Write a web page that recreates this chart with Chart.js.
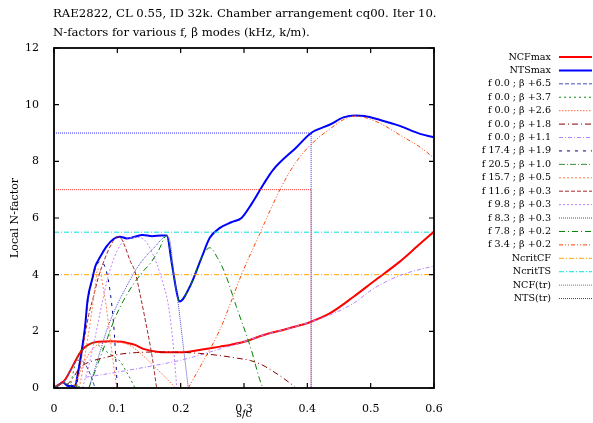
<!DOCTYPE html>
<html><head><meta charset="utf-8">
<script src="https://cdn.jsdelivr.net/npm/chart.js@4"></script>
<style>html,body{margin:0;padding:0;background:#fff;}#wrap{width:593px;height:423px;position:relative}</style>
</head><body><div id="wrap"><canvas id="c" width="593" height="423"></canvas></div>
<script>
const titleLines = ["RAE2822, CL 0.55, ID 32k. Chamber arrangement cq00. Iter 10.", "N-factors for various f, \u03b2 modes (kHz, k/m)."];
const xTitle = "s/c";
const yTitle = "Local N-factor";
const xTickValues = [0, 0.1, 0.2, 0.3, 0.4, 0.5, 0.6];
const yTickValues = [0, 2, 4, 6, 8, 10, 12];

const ncfMax = [[0,0],[0.004,0.07],[0.01,0.15],[0.017,0.28],[0.025,0.58],[0.036,1.05],[0.044,1.34],[0.054,1.52],[0.062,1.6],[0.07,1.63],[0.09,1.65],[0.107,1.63],[0.118,1.58],[0.128,1.52],[0.141,1.38],[0.162,1.28],[0.18,1.26],[0.199,1.26],[0.23,1.34],[0.262,1.46],[0.278,1.52],[0.3,1.63],[0.331,1.87],[0.37,2.1],[0.406,2.34],[0.436,2.64],[0.473,3.22],[0.504,3.75],[0.546,4.46],[0.573,4.99],[0.6,5.52]];
const ntsMax = [[0,0],[0.008,0.12],[0.014,0.2],[0.022,0.07],[0.033,0.07],[0.038,0.55],[0.044,1.35],[0.049,2.15],[0.053,3.1],[0.061,3.9],[0.065,4.28],[0.073,4.63],[0.083,5.0],[0.094,5.26],[0.104,5.34],[0.115,5.28],[0.125,5.32],[0.14,5.4],[0.155,5.36],[0.17,5.38],[0.178,5.38],[0.186,4.4],[0.194,3.35],[0.198,3.05],[0.215,3.6],[0.233,4.6],[0.246,5.3],[0.262,5.65],[0.28,5.85],[0.296,6.0],[0.312,6.5],[0.331,7.2],[0.346,7.7],[0.383,8.5],[0.406,9.0],[0.436,9.3],[0.457,9.55],[0.475,9.62],[0.49,9.6],[0.515,9.46],[0.546,9.25],[0.578,8.97],[0.6,8.85]];
const cf65 = [[0,0],[0.005,0.08],[0.012,0.2],[0.018,0.3],[0.025,0.58],[0.032,0.85],[0.038,0.98],[0.045,0.95],[0.055,0.6],[0.065,0]];
const cf37 = [[0.025,0],[0.036,1.05],[0.044,1.34],[0.054,1.52],[0.065,1.6],[0.073,1.45],[0.085,1.25],[0.095,1.1],[0.104,0.95],[0.115,0.55],[0.128,0]];
const cf26 = [[0.03,0],[0.04,0.5],[0.05,1.0],[0.06,1.35],[0.07,1.55],[0.08,1.62],[0.09,1.64],[0.1,1.63],[0.11,1.58],[0.12,1.5],[0.13,1.35],[0.145,1.05],[0.16,0.72],[0.175,0.4],[0.19,0.05]];
const cf18 = [[0.02,0.1],[0.03,0.35],[0.04,0.7],[0.06,0.95],[0.08,1.07],[0.1,1.18],[0.13,1.25],[0.16,1.27],[0.2,1.26],[0.23,1.22],[0.26,1.15],[0.29,1.05],[0.31,0.97],[0.33,0.8],[0.345,0.6],[0.36,0.38],[0.38,0.05]];
const cf11 = [[0.05,0.38],[0.1,0.56],[0.15,0.76],[0.2,0.98],[0.23,1.16],[0.262,1.38],[0.3,1.63],[0.331,1.87],[0.37,2.1],[0.406,2.34],[0.436,2.58],[0.473,2.99],[0.504,3.5],[0.546,3.97],[0.575,4.17],[0.6,4.3]];
const ts174 = [[0.03,0],[0.035,0.07],[0.038,0.55],[0.044,1.35],[0.049,2.15],[0.053,3.0],[0.06,3.8],[0.065,4.2],[0.072,4.45],[0.08,4.3],[0.088,3.5],[0.095,2.0],[0.1,0]];
const ts205 = [[0,0],[0.008,0.12],[0.014,0.2],[0.02,0.15],[0.03,0.1],[0.04,0.05]];
const ts157 = [[0.04,0],[0.045,0.6],[0.05,1.3],[0.055,2.0],[0.06,2.75],[0.065,3.6],[0.069,4.2],[0.073,4.1],[0.078,3.5],[0.083,2.8],[0.088,1.9],[0.093,1.0],[0.099,0]];
const ts116 = [[0.035,0],[0.04,0.6],[0.045,1.3],[0.05,2.0],[0.055,2.6],[0.062,3.2],[0.07,3.9],[0.08,4.55],[0.09,5.05],[0.1,5.33],[0.105,5.3],[0.112,5.0],[0.12,4.5],[0.128,4.1],[0.136,3.3],[0.145,2.3],[0.155,1.1],[0.162,0]];
const ts98 = [[0.045,0],[0.055,0.8],[0.065,1.8],[0.075,2.9],[0.085,3.9],[0.095,4.6],[0.105,5.05],[0.115,5.25],[0.13,5.32],[0.144,5.2],[0.162,4.4],[0.172,3.7],[0.18,3.0],[0.187,1.8],[0.194,0]];
const ts83 = [[0.055,0],[0.065,0.7],[0.075,1.45],[0.085,2.15],[0.1,2.95],[0.115,3.6],[0.13,4.2],[0.145,4.65],[0.16,5.0],[0.17,5.25],[0.178,5.37],[0.183,5.2],[0.19,3.9],[0.196,3.0],[0.204,1.5],[0.212,0]];
const ts78 = [[0.055,0],[0.065,0.6],[0.075,1.2],[0.085,1.8],[0.095,2.4],[0.11,3.1],[0.125,3.65],[0.14,4.1],[0.152,4.4],[0.165,4.85],[0.178,5.38],[0.186,4.4],[0.194,3.35],[0.198,3.05],[0.215,3.6],[0.233,4.6],[0.246,4.95],[0.258,4.6],[0.27,4.05],[0.288,2.87],[0.31,1.46],[0.328,0.1],[0.331,0]];
const ts34 = [[0.212,0],[0.23,0.72],[0.262,2.06],[0.278,2.95],[0.296,4.0],[0.325,5.45],[0.346,6.5],[0.365,7.35],[0.383,8.0],[0.406,8.6],[0.436,9.15],[0.457,9.47],[0.475,9.6],[0.49,9.55],[0.515,9.34],[0.546,8.93],[0.578,8.5],[0.6,8.12]];
const nCritCF = [[0,4],[0.6,4]];
const nCritTS = [[0,5.5],[0.6,5.5]];
const ncfTr = [[0,7],[0.406,7],[0.406,0]];
const ntsTr = [[0,9],[0.406,9],[0.406,0]];

const toXY = arr => arr.map(p => ({x: p[0], y: p[1]}));
function ds(label, arr, color, dash, width, smooth, order) {
  return {label, data: toXY(arr), borderColor: color, backgroundColor: color, borderDash: dash, borderWidth: width,
    pointRadius: 0, fill: false, tension: smooth ? 0.4 : 0, cubicInterpolationMode: smooth ? 'monotone' : 'default', order: order || 0};
}
const datasets = [
  ds("NCFmax", ncfMax, "#ff0000", [], 2, true, 1),
  ds("NTSmax", ntsMax, "#0000ff", [], 2, true, 1),
  ds("f 0.0 ; \u03b2 +6.5", cf65, "#4b4bb4", [4,2], 1, true),
  ds("f 0.0 ; \u03b2 +3.7", cf37, "#1a8a1a", [2,3], 1, true),
  ds("f 0.0 ; \u03b2 +2.6", cf26, "#ff6a3a", [1.5,1.5], 1, true),
  ds("f 0.0 ; \u03b2 +1.8", cf18, "#8b0000", [6,3,1,3], 1, true),
  ds("f 0.0 ; \u03b2 +1.1", cf11, "#b482ff", [4,2,1,2], 1, true),
  ds("f 17.4 ; \u03b2 +1.9", ts174, "#00008b", [3,5], 1, true),
  ds("f 20.5 ; \u03b2 +1.0", ts205, "#3c8c3c", [6,2,1,2], 1, true),
  ds("f 15.7 ; \u03b2 +0.5", ts157, "#ff7f50", [2,2], 1, true),
  ds("f 11.6 ; \u03b2 +0.3", ts116, "#a52a2a", [4,2], 1, true),
  ds("f 9.8 ; \u03b2 +0.3", ts98, "#c080ff", [2,2], 1, true),
  ds("f 8.3 ; \u03b2 +0.3", ts83, "#4848d0", [1,1], 1, true),
  ds("f 7.8 ; \u03b2 +0.2", ts78, "#008000", [6,3,1,3], 1, true),
  ds("f 3.4 ; \u03b2 +0.2", ts34, "#ff4500", [4,2,1,2,1,2], 1, true),
  ds("NcritCF", nCritCF, "#ffa500", [5,2,1,2], 1, false),
  ds("NcritTS", nCritTS, "#00e0e0", [5,2,1,2], 1, false),
  ds("NCF(tr)", ncfTr, "#ff4040", [1,1], 1, false),
  ds("NTS(tr)", ntsTr, "#3030ff", [1,1], 1, false)
];

const FONT = "'DejaVu Serif', serif";
const decor = {
  id: 'decor',
  afterDraw(chart) {
    const {ctx, chartArea: a, scales} = chart;
    ctx.save();
    ctx.strokeStyle = '#000'; ctx.lineWidth = 1.8; ctx.setLineDash([]);
    ctx.strokeRect(a.left, a.top, a.right - a.left, a.bottom - a.top);
    ctx.lineWidth = 1.2;
    const tl = 5;
    xTickValues.forEach(v => {
      const px = scales.x.getPixelForValue(v);
      ctx.beginPath(); ctx.moveTo(px, a.bottom); ctx.lineTo(px, a.bottom - tl);
      ctx.moveTo(px, a.top); ctx.lineTo(px, a.top + tl); ctx.stroke();
    });
    yTickValues.forEach(v => {
      const py = scales.y.getPixelForValue(v);
      ctx.beginPath(); ctx.moveTo(a.left, py); ctx.lineTo(a.left + tl, py);
      ctx.moveTo(a.right, py); ctx.lineTo(a.right - tl, py); ctx.stroke();
    });
    ctx.fillStyle = '#000';
    ctx.font = '11.7px ' + FONT;
    ctx.textAlign = 'left'; ctx.textBaseline = 'middle';
    ctx.fillText(titleLines[0], 53, 14);
    ctx.fillText(titleLines[1], 53, 33);
    ctx.font = '11px ' + FONT;
    ctx.textAlign = 'center';
    ctx.fillText(xTitle, (a.left + a.right) / 2, 414);
    ctx.save(); ctx.translate(15, (a.top + a.bottom) / 2); ctx.rotate(-Math.PI / 2);
    ctx.fillText(yTitle, 0, 0); ctx.restore();
    // legend
    ctx.font = '9.6px ' + FONT;
    chart.data.datasets.forEach((d, i) => {
      const y = 57 + i * 13.42;
      ctx.fillStyle = '#000'; ctx.textAlign = 'right';
      ctx.fillText(d.label, 551, y);
      ctx.strokeStyle = d.borderColor; ctx.lineWidth = d.borderWidth; ctx.setLineDash(d.borderDash);
      ctx.beginPath(); ctx.moveTo(559, y); ctx.lineTo(592, y); ctx.stroke();
    });
    ctx.restore();
  }
};

Chart.defaults.font.family = FONT;
Chart.defaults.font.size = 11;
Chart.defaults.color = '#000';
new Chart(document.getElementById('c'), {
  type: 'line',
  data: {datasets},
  options: {
    responsive: false, animation: false, devicePixelRatio: 1,
    layout: {padding: {top: 48, right: 159, left: 0, bottom: 0}},
    plugins: {legend: {display: false}, tooltip: {enabled: false}, title: {display: false}},
    scales: {
      x: {type: 'linear', min: 0, max: 0.6, grid: {display: false}, border: {display: false},
          afterBuildTicks: s => { s.ticks = xTickValues.map(v => ({value: v})); },
          ticks: {padding: 7, maxRotation: 0, callback: v => String(v)},
          afterFit: s => { s.height = 35; }},
      y: {type: 'linear', min: 0, max: 12, grid: {display: false}, border: {display: false},
          afterBuildTicks: s => { s.ticks = yTickValues.map(v => ({value: v})); },
          ticks: {padding: 7, callback: v => String(v)},
          afterFit: s => { s.width = 54; }}
    }
  },
  plugins: [decor]
});
</script></body></html>
